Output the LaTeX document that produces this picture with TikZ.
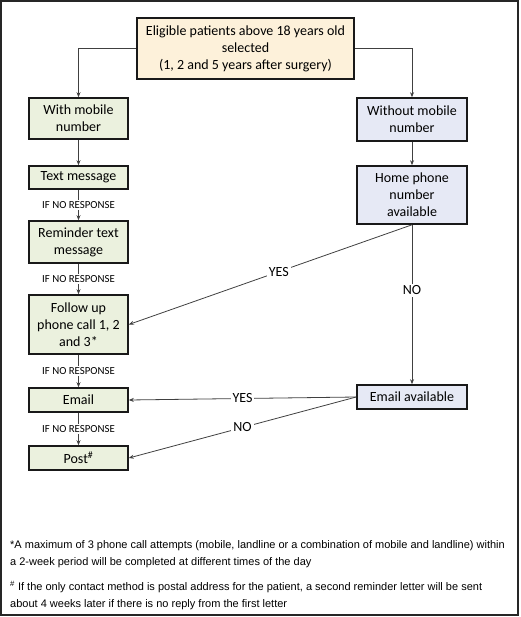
\documentclass[tikz,border=0pt]{standalone}
\usepackage{fontspec}
\setmainfont{Carlito}
\newfontfamily\arialfont{Liberation Sans}
\usetikzlibrary{arrows.meta}
\definecolor{boxgreen}{HTML}{EBF1DE}
\definecolor{boxblue}{HTML}{E6E9F5}
\definecolor{boxyellow}{HTML}{FDF1DA}
\definecolor{linegray}{HTML}{404040}
\begin{document}
\begin{tikzpicture}[x=1pt,y=-1pt,
  box/.style={draw=black!90, line width=1.6pt, align=center, inner sep=2pt,
    font=\fontsize{14}{17}\selectfont},
  gbox/.style={box, fill=boxgreen, minimum width=99pt},
  bbox/.style={box, fill=boxblue, minimum width=110pt},
  conn/.style={draw=linegray, line width=0.8pt},
  arr/.style={conn, -{Stealth[length=5pt,width=4pt]}},
  nores/.style={fill=white, inner sep=1pt, font=\fontsize{10.8}{12}\selectfont},
  yn/.style={fill=white, inner sep=2pt, font=\fontsize{14}{16}\selectfont},
  foot/.style={anchor=north west, align=left, inner sep=0pt,
    font=\arialfont\fontsize{11}{17}\selectfont}]
\useasboundingbox (0,0) rectangle (520,617);
\draw[line width=1.5pt, draw=black!85] (1,1) rectangle (518,615);

\node[box, fill=boxyellow, minimum width=217pt, minimum height=61pt] (top) at (245.5,48.5)
  {Eligible patients above 18 years old\\selected\\(1, 2 and 5 years after surgery)};

\node[gbox, minimum height=41pt] (withm) at (78.5,118.5) {With mobile\\number};
\node[gbox, minimum height=23pt] (text) at (78.5,177.5) {Text message};
\node[gbox, minimum height=42pt] (remind) at (78.5,242) {Reminder text\\message};
\node[gbox, minimum height=59pt] (follow) at (78.5,324.5) {Follow up\\phone call 1, 2\\and 3*};
\node[gbox, minimum height=24pt] (email) at (78.5,400) {Email};
\node[gbox, minimum height=24pt] (post) at (78.5,458) {Post\textsuperscript{\#}};

\node[bbox, minimum height=43pt] (without) at (412,119.5) {Without mobile\\number};
\node[bbox, minimum height=58pt] (home) at (412,195) {Home phone\\number\\available};
\node[bbox, minimum height=24pt] (emailav) at (412,397) {Email available};

\draw[arr] (top.west) -| (withm.north);
\draw[arr] (top.east) -| (without.north);
\draw[arr] (withm) -- (text);
\draw[arr] (text) -- node[nores] {IF NO RESPONSE} (remind);
\draw[arr] (remind) -- node[nores] {IF NO RESPONSE} (follow);
\draw[arr] (follow) -- node[nores] {IF NO RESPONSE} (email);
\draw[arr] (email) -- node[nores] {IF NO RESPONSE} (post);
\draw[arr] (without) -- (home);
\draw[arr] (home.south) -- node[yn, pos=0.47] {YES} (follow.east);
\draw[arr] (home.south) -- node[yn, pos=0.41] {NO} (emailav.north);
\draw[arr] (emailav.west) -- node[yn] {YES} (email.east);
\draw[arr] (emailav.west) -- node[yn] {NO} (post.east);

\node[foot] (fn1) at (10,540) {*A maximum of 3 phone call attempts (mobile, landline or a combination of mobile and landline) within\\a 2-week period will be completed at different times of the day};
\node[foot] (fn2) at (10,581) {\textsuperscript{\#} If the only contact method is postal address for the patient, a second reminder letter will be sent\\about 4 weeks later if there is no reply from the first letter};
\end{tikzpicture}
\end{document}
